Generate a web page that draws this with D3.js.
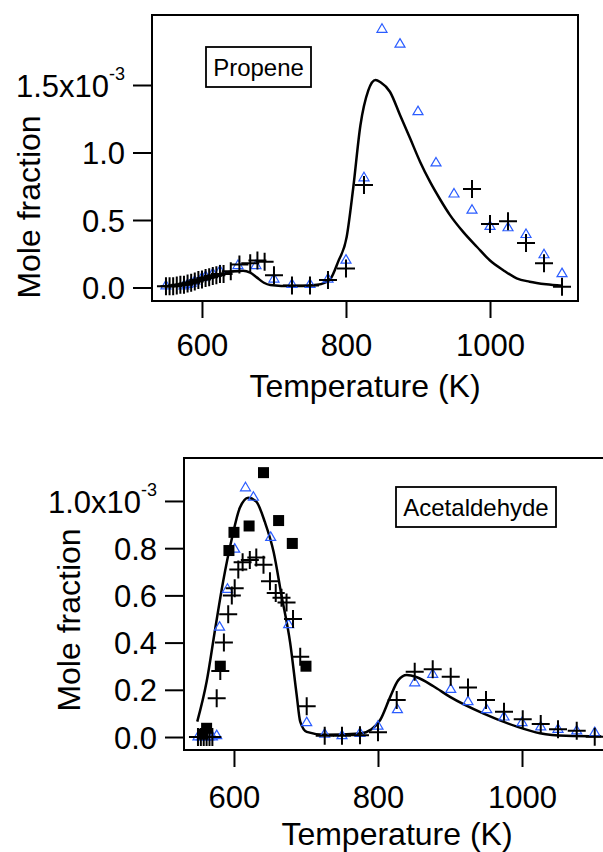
<!DOCTYPE html>
<html>
<head>
<meta charset="utf-8">
<script src="https://cdn.jsdelivr.net/npm/d3@7"></script>
<style>
  body { margin: 0; background: #fff; }
  svg { display: block; font-family: "Liberation Sans", Arial, sans-serif; }
</style>
</head>
<body>
<script>
// data: temperature (K) and mole fraction in units of 1e-3

// --- propene (top panel) ---
var propeneCross = [[550,0.01],[555,0.01],[560,0.01],[565,0.015],[570,0.02],[575,0.02],[580,0.03],[585,0.035],[590,0.045],[595,0.055],[600,0.06],[605,0.07],[610,0.075],[615,0.085],[620,0.09],[625,0.1],[630,0.1],[640,0.12],[652,0.17],[667,0.18],[677,0.2],[687,0.19],[700,0.09],[725,0.015],[750,0.015],[775,0.055],[800,0.14],[825,0.76],[975,0.73],[1000,0.47],[1025,0.49],[1050,0.33],[1075,0.18],[1100,0.005]];
var propeneTri = [[550,0.02],[575,0.02],[580,0.03],[585,0.04],[590,0.055],[600,0.08],[605,0.09],[615,0.11],[625,0.13],[650,0.17],[675,0.17],[700,0.07],[725,0.03],[750,0.03],[775,0.07],[800,0.21],[825,0.82],[850,1.92],[875,1.81],[900,1.31],[925,0.93],[950,0.70],[975,0.58],[1000,0.46],[1025,0.45],[1050,0.40],[1075,0.25],[1100,0.11]];
var propeneModel = [[550,0.01],[575,0.03],[600,0.06],[625,0.10],[645,0.12],[657,0.125],[667,0.11],[676,0.075],[686,0.035],[695,0.018],[710,0.012],[740,0.012],[760,0.02],[770,0.035],[778,0.06],[789,0.19],[801,0.376],[810,0.735],[820,1.20],[831,1.46],[841,1.537],[848,1.52],[861,1.45],[875,1.278],[889,1.105],[903,0.93],[917,0.78],[931,0.65],[944,0.54],[963,0.41],[982,0.30],[1000,0.20],[1018,0.13],[1037,0.068],[1055,0.043],[1078,0.024],[1100,0.013]];

// --- acetaldehyde (bottom panel) ---
var acetCross = [[550,0],[554,0],[558,0],[562,0],[566,0],[570,0],[576,0.164],[581,0.28],[586,0.40],[592,0.52],[597,0.60],[601,0.63],[606,0.71],[612,0.74],[622,0.75],[631,0.76],[641,0.73],[650,0.66],[658,0.61],[666,0.59],[673,0.57],[682,0.50],[692,0.34],[701,0.13],[726,0.005],[750,0.005],[775,0.008],[800,0.02],[826,0.157],[851,0.277],[876,0.287],[901,0.255],[925,0.21],[950,0.157],[975,0.107],[1001,0.075],[1026,0.055],[1050,0.033],[1076,0.027],[1101,0.001]];
var acetTri = [[550,0.005],[555,0.005],[560,0.005],[565,0.005],[570,0.005],[576,0.01],[580,0.47],[591,0.63],[601,0.80],[616,1.06],[627,1.02],[651,0.85],[676,0.48],[701,0.065],[726,0.016],[750,0.01],[775,0.02],[800,0.05],[827,0.12],[851,0.234],[876,0.27],[901,0.206],[925,0.154],[951,0.12],[975,0.089],[1000,0.065],[1026,0.047],[1050,0.037],[1076,0.03],[1101,0.023]];
var acetSquare = [[557,0.012],[562,0.037],[581,0.30],[593,0.79],[600,0.867],[621,0.894],[641,1.12],[662,0.917],[681,0.82],[700,0.30]];
var acetModel = [[549,0.065],[562,0.234],[574,0.46],[585,0.66],[597,0.84],[608,0.97],[620,1.014],[631,0.997],[643,0.91],[655,0.785],[666,0.60],[678,0.40],[687,0.18],[692,0.065],[701,0.022],[725,0.01],[775,0.015],[791,0.033],[803,0.072],[817,0.17],[828,0.24],[840,0.263],[854,0.253],[877,0.215],[900,0.17],[946,0.10],[993,0.044],[1025,0.016],[1061,0.005],[1110,0.003]];

var xTicks = [600, 800, 1000];
var propeneTicks = [0, 0.5, 1.0, 1.5];
var acetTicks = [0, 0.2, 0.4, 0.6, 0.8, 1.0];

var blue = "#2a5cff";

var svg = d3.select("body").append("svg")
    .attr("width", 603)
    .attr("height", 852);

// one panel: frame, ticks, labels, marks
function drawPanel(opt){
    var x = d3.scaleLinear().domain([530.6, 1122.2]).range([opt.left, opt.left + 426]);
    var y = d3.scaleLinear().domain(opt.yDomain).range([opt.bottom, opt.top]);
    var g = svg.append("g");

    //model curve
    g.append("path")
        .datum(opt.model)
        .attr("d", d3.line().x(function(d){ return x(d[0]); }).y(function(d){ return y(d[1]); }).curve(d3.curveMonotoneX))
        .attr("fill", "none")
        .attr("stroke", "#000")
        .attr("stroke-width", 2.5);

    //triangles
    g.selectAll(".tri")
        .data(opt.tri)
        .enter()
        .append("path")
        .attr("transform", function(d){ return "translate(" + x(d[0]) + "," + y(d[1]) + ")"; })
        .attr("d", "M0,-4.5L5,4L-5,4Z")
        .attr("fill", "none")
        .attr("stroke", blue)
        .attr("stroke-width", 1.2);

    //crosses
    g.selectAll(".cross")
        .data(opt.cross)
        .enter()
        .append("path")
        .attr("transform", function(d){ return "translate(" + x(d[0]) + "," + y(d[1]) + ")"; })
        .attr("d", "M-9,0H9M0,-9V9")
        .attr("stroke", "#000")
        .attr("stroke-width", 2);

    //squares
    if (opt.square){
        g.selectAll(".sq")
            .data(opt.square)
            .enter()
            .append("rect")
            .attr("x", function(d){ return x(d[0]) - 5.5; })
            .attr("y", function(d){ return y(d[1]) - 5.5; })
            .attr("width", 11)
            .attr("height", 11)
            .attr("fill", "#000");
    }

    //frame
    g.append("rect")
        .attr("x", opt.left)
        .attr("y", opt.top)
        .attr("width", 426)
        .attr("height", opt.bottom - opt.top)
        .attr("fill", "none")
        .attr("stroke", "#000")
        .attr("stroke-width", 2);

    //x axis
    var xAxis = d3.axisBottom(x).tickValues(xTicks).tickSize(16).tickPadding(6).tickFormat(d3.format("d"));
    var xa = g.append("g")
        .attr("transform", "translate(0," + (opt.bottom + 1) + ")")
        .call(xAxis);
    xa.select(".domain").remove();
    xa.selectAll("line").attr("stroke-width", 2);
    xa.selectAll("text")
        .attr("font-size", 31)
        .attr("font-family", "Liberation Sans, Arial, sans-serif")
        .attr("fill", "#000")
        .attr("dy", null)
        .attr("y", opt.xLabelBase - opt.bottom - 1);

    //y axis
    var yAxis = d3.axisLeft(y).tickValues(opt.yTicks).tickSize(18).tickPadding(8).tickFormat(d3.format(".1f"));
    var ya = g.append("g")
        .attr("transform", "translate(" + (opt.left - 1) + ",0)")
        .call(yAxis);
    ya.select(".domain").remove();
    ya.selectAll("line").attr("stroke-width", 2);
    ya.selectAll("text")
        .attr("font-size", 31)
        .attr("font-family", "Liberation Sans, Arial, sans-serif")
        .attr("fill", "#000")
        .attr("dy", "0.36em")
        .each(function(d){
            if (d === opt.yTicks[opt.yTicks.length - 1]){
                var t = d3.select(this);
                t.text(d3.format(".1f")(d) + "x10");
                t.append("tspan").attr("font-size", 18).attr("dy", "-0.95em").text("-3");
            }
        });

    //axis titles
    g.append("text")
        .attr("x", opt.left + 213)
        .attr("y", opt.xTitleBase)
        .attr("text-anchor", "middle")
        .attr("font-size", 32)
        .text("Temperature (K)");
    g.append("text")
        .attr("transform", "translate(" + opt.yTitleX + "," + opt.yTitleY + ") rotate(-90)")
        .attr("text-anchor", "middle")
        .attr("font-size", 32)
        .text("Mole fraction");

    //name box
    g.append("rect")
        .attr("x", opt.box[0])
        .attr("y", opt.box[1])
        .attr("width", opt.box[2])
        .attr("height", 40)
        .attr("fill", "#fff")
        .attr("stroke", "#000")
        .attr("stroke-width", 1.8);
    g.append("text")
        .attr("x", opt.box[0] + opt.box[2] / 2)
        .attr("y", opt.box[1] + 29)
        .attr("text-anchor", "middle")
        .attr("font-size", 24)
        .text(opt.name);
}

drawPanel({
    left: 152, top: 15, bottom: 301,
    yDomain: [-0.1, 2.0185],
    yTicks: propeneTicks,
    model: propeneModel, tri: propeneTri, cross: propeneCross,
    xLabelBase: 356, xTitleBase: 397,
    yTitleX: 40, yTitleY: 207,
    box: [206, 47, 105], name: "Propene"
});

drawPanel({
    left: 184, top: 458, bottom: 750,
    yDomain: [-0.055, 1.182],
    yTicks: acetTicks,
    model: acetModel, tri: acetTri, cross: acetCross, square: acetSquare,
    xLabelBase: 808, xTitleBase: 845,
    yTitleX: 80, yTitleY: 620,
    box: [396, 487, 160], name: "Acetaldehyde"
});
</script>
</body>
</html>
